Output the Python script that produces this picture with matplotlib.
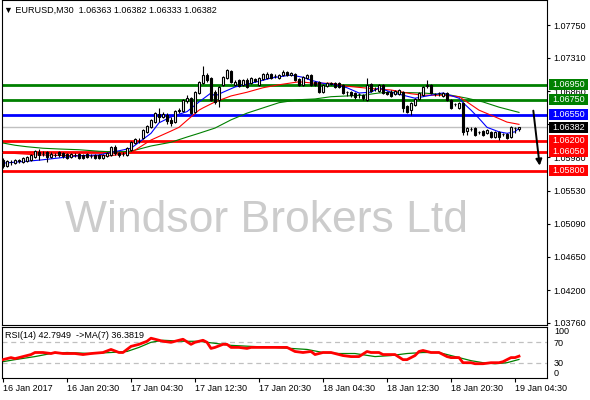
#!/usr/bin/env python3
"""EURUSD M30 candle chart with support/resistance levels and RSI(14) panel (MT4 style)."""

import matplotlib
matplotlib.use("Agg")
import matplotlib.pyplot as plt
from matplotlib.patches import Rectangle
import numpy as np

plt.rcParams["font.family"] = ["Liberation Sans", "DejaVu Sans"]

# --- candles, one per 30 min bar (bar 0 = 16 Jan 2017 12:30) ---
opens = [
    1.0594, 1.0586, 1.0592, 1.0590, 1.0594, 1.0592, 1.0593, 1.0594, 1.0598, 1.0605,
    1.0602, 1.0605, 1.0598, 1.0601, 1.0605, 1.0604, 1.0602, 1.0598, 1.0601, 1.0602,
    1.0601, 1.0602, 1.0600, 1.0601, 1.0601, 1.0597, 1.0600, 1.0601, 1.0612, 1.0604,
    1.0602, 1.0601, 1.0608, 1.0617, 1.0620, 1.0624, 1.0632, 1.0638, 1.0645, 1.0656,
    1.0652, 1.0654, 1.0648, 1.0645, 1.0660, 1.0660, 1.0673, 1.0677, 1.0659, 1.0684,
    1.0697, 1.0708, 1.0704, 1.0685, 1.0675, 1.0695, 1.0704, 1.0713, 1.0695, 1.0701,
    1.0695, 1.0701, 1.0697, 1.0703, 1.0695, 1.0703, 1.0704, 1.0709, 1.0707, 1.0704,
    1.0708, 1.0712, 1.0708, 1.0709, 1.0703, 1.0695, 1.0704, 1.0708, 1.0699, 1.0699,
    1.0685, 1.0693, 1.0697, 1.0697, 1.0697, 1.0695, 1.0685, 1.0685, 1.0684, 1.0683,
    1.0681, 1.0675, 1.0696, 1.0689, 1.0687, 1.0695, 1.0685, 1.0685, 1.0683, 1.0683,
    1.0685, 1.0667, 1.0661, 1.0668, 1.0676, 1.0681, 1.0693, 1.0695, 1.0683, 1.0684,
    1.0680, 1.0684, 1.0675, 1.0669, 1.0664, 1.0671, 1.0633, 1.0636, 1.0637, 1.0632,
    1.0633, 1.0630, 1.0632, 1.0625, 1.0632, 1.0629, 1.0629, 1.0625, 1.0637, 1.06363,
]
highs = [
    1.0597, 1.0594, 1.0594, 1.0596, 1.0596, 1.0598, 1.0600, 1.0602, 1.0608, 1.0609,
    1.0606, 1.0606, 1.0605, 1.0604, 1.0606, 1.0605, 1.0604, 1.0604, 1.0604, 1.0604,
    1.0602, 1.0604, 1.0602, 1.0602, 1.0602, 1.0602, 1.0605, 1.0613, 1.0614, 1.0605,
    1.0605, 1.0612, 1.0620, 1.0624, 1.0624, 1.0636, 1.0641, 1.0649, 1.0659, 1.0664,
    1.0659, 1.0657, 1.0652, 1.0661, 1.0664, 1.0676, 1.0681, 1.0679, 1.0687, 1.0700,
    1.0720, 1.0711, 1.0705, 1.0688, 1.0693, 1.0707, 1.0716, 1.0715, 1.0701, 1.0703,
    1.0703, 1.0704, 1.0705, 1.0704, 1.0705, 1.0711, 1.0712, 1.0711, 1.0709, 1.0709,
    1.0715, 1.0713, 1.0712, 1.0711, 1.0704, 1.0707, 1.0709, 1.0709, 1.0700, 1.0700,
    1.0696, 1.0699, 1.0699, 1.0699, 1.0699, 1.0696, 1.0687, 1.0687, 1.0685, 1.0684,
    1.0683, 1.0704, 1.0697, 1.0692, 1.0696, 1.0696, 1.0687, 1.0688, 1.0688, 1.0689,
    1.0687, 1.0668, 1.0672, 1.0677, 1.0685, 1.0693, 1.0701, 1.0696, 1.0684, 1.0685,
    1.0685, 1.0685, 1.0676, 1.0671, 1.0672, 1.0672, 1.0638, 1.0638, 1.0638, 1.0633,
    1.0634, 1.0636, 1.0633, 1.0633, 1.0633, 1.0630, 1.0630, 1.0640, 1.0638, 1.06382,
]
lows = [
    1.0584, 1.0585, 1.0588, 1.0589, 1.0590, 1.0590, 1.0592, 1.0593, 1.0597, 1.0594,
    1.0600, 1.0592, 1.0597, 1.0598, 1.0598, 1.0597, 1.0596, 1.0597, 1.0598, 1.0596,
    1.0596, 1.0597, 1.0597, 1.0596, 1.0596, 1.0596, 1.0598, 1.0600, 1.0601, 1.0598,
    1.0600, 1.0600, 1.0606, 1.0616, 1.0617, 1.0622, 1.0630, 1.0637, 1.0644, 1.0645,
    1.0650, 1.0642, 1.0640, 1.0644, 1.0657, 1.0659, 1.0671, 1.0656, 1.0657, 1.0683,
    1.0696, 1.0699, 1.0673, 1.0669, 1.0665, 1.0693, 1.0703, 1.0697, 1.0693, 1.0692,
    1.0693, 1.0691, 1.0696, 1.0699, 1.0693, 1.0701, 1.0703, 1.0703, 1.0704, 1.0703,
    1.0707, 1.0707, 1.0707, 1.0700, 1.0693, 1.0693, 1.0703, 1.0693, 1.0693, 1.0684,
    1.0684, 1.0692, 1.0695, 1.0691, 1.0690, 1.0683, 1.0680, 1.0679, 1.0676, 1.0677,
    1.0675, 1.0673, 1.0685, 1.0687, 1.0685, 1.0683, 1.0681, 1.0679, 1.0681, 1.0681,
    1.0659, 1.0657, 1.0654, 1.0667, 1.0675, 1.0680, 1.0691, 1.0683, 1.0680, 1.0680,
    1.0679, 1.0673, 1.0663, 1.0667, 1.0663, 1.0628, 1.0628, 1.0633, 1.0626, 1.0629,
    1.0626, 1.0629, 1.0624, 1.0624, 1.0621, 1.0626, 1.0622, 1.0624, 1.0630, 1.06333,
]
closes = [
    1.0586, 1.0593, 1.0591, 1.0594, 1.0593, 1.0597, 1.0598, 1.0601, 1.0606, 1.0601,
    1.0602, 1.0598, 1.0602, 1.0601, 1.0601, 1.0600, 1.0597, 1.0602, 1.0601, 1.0597,
    1.0597, 1.0598, 1.0600, 1.0597, 1.0597, 1.0601, 1.0604, 1.0612, 1.0604, 1.0601,
    1.0602, 1.0610, 1.0618, 1.0622, 1.0620, 1.0634, 1.0640, 1.0648, 1.0657, 1.0652,
    1.0656, 1.0646, 1.0644, 1.0660, 1.0661, 1.0675, 1.0677, 1.0657, 1.0685, 1.0699,
    1.0708, 1.0701, 1.0675, 1.0672, 1.0692, 1.0705, 1.0715, 1.0699, 1.0699, 1.0693,
    1.0701, 1.0692, 1.0704, 1.0700, 1.0704, 1.0709, 1.0709, 1.0704, 1.0707, 1.0708,
    1.0712, 1.0708, 1.0711, 1.0701, 1.0695, 1.0705, 1.0708, 1.0695, 1.0695, 1.0685,
    1.0695, 1.0697, 1.0696, 1.0692, 1.0692, 1.0684, 1.0685, 1.0681, 1.0679, 1.0683,
    1.0677, 1.0695, 1.0687, 1.0689, 1.0695, 1.0684, 1.0683, 1.0680, 1.0687, 1.0688,
    1.0664, 1.0659, 1.0671, 1.0676, 1.0684, 1.0692, 1.0695, 1.0684, 1.0683, 1.0684,
    1.0684, 1.0675, 1.0664, 1.0669, 1.0671, 1.0632, 1.0637, 1.0636, 1.0628, 1.0632,
    1.0628, 1.0634, 1.0625, 1.0632, 1.0625, 1.0629, 1.0624, 1.0638, 1.0637, 1.06382,
]

# moving averages (bar index -> price)
ma_fast_idx = [0, 9, 19, 24, 32, 34, 37, 39, 42, 46, 49, 52, 53, 55, 58, 62, 65, 67, 72, 75,
               77, 80, 83, 86, 89, 92, 94, 97, 100, 103, 107, 110, 114, 115, 117, 119, 121,
               124, 126, 128, 129]
ma_fast = [1.0590, 1.0594, 1.0600, 1.0601, 1.0610, 1.0618, 1.0630, 1.0644, 1.0652, 1.0659,
           1.0672, 1.0684, 1.0680, 1.0685, 1.0692, 1.0697, 1.0701, 1.0704, 1.0708, 1.0705,
           1.0701, 1.0697, 1.0695, 1.0691, 1.0684, 1.0685, 1.0691, 1.0685, 1.0681, 1.0677,
           1.0681, 1.0684, 1.0677, 1.0671, 1.0661, 1.0650, 1.0638, 1.0632, 1.0630, 1.0632,
           1.0637]
ma_mid_idx = [0, 9, 19, 27, 32, 37, 42, 44, 47, 49, 50, 53, 57, 61, 65, 69, 74, 78, 82, 86,
              90, 94, 97, 102, 105, 110, 114, 116, 119, 123, 126, 129]
ma_mid = [1.0604, 1.0601, 1.0600, 1.0600, 1.0604, 1.0621, 1.0633, 1.0638, 1.0652, 1.0661,
          1.0664, 1.0672, 1.0680, 1.0685, 1.0691, 1.0695, 1.0699, 1.0697, 1.0697, 1.0693,
          1.0691, 1.0689, 1.0688, 1.0683, 1.0681, 1.0681, 1.0679, 1.0672, 1.0661, 1.0652,
          1.0645, 1.0642]
ma_slow_idx = [0, 3, 6, 10, 14, 19, 24, 28, 32, 37, 42, 46, 49, 53, 57, 61, 65, 69, 74, 78,
               82, 86, 90, 94, 97, 105, 112, 116, 120, 124, 129]
ma_slow = [1.0617, 1.0614, 1.0612, 1.0610, 1.0609, 1.0608, 1.0606, 1.0605, 1.0606, 1.0613,
           1.0618, 1.0625, 1.0630, 1.0637, 1.0648, 1.0657, 1.0664, 1.0671, 1.0675, 1.0676,
           1.0679, 1.0680, 1.0681, 1.0684, 1.0685, 1.0684, 1.0681, 1.0677, 1.0672, 1.0665,
           1.0658]

# horizontal levels
level_prices = [1.06950, 1.06750, 1.06550, 1.06200, 1.06050, 1.05800]
level_colors = ["#008000", "#008000", "#0000ff", "#ff0000", "#ff0000", "#ff0000"]
last_price = 1.06382

price_ticks = [1.07750, 1.07310, 1.06860, 1.06420, 1.05980, 1.05530,
               1.05090, 1.04650, 1.04200, 1.03760]

# RSI(14) and its MA(7)
rsi_idx = [0, 2, 3, 5, 7, 8, 10, 12, 13, 15, 18, 20, 22, 25, 27, 29, 30, 31, 32, 34,
           36, 37, 39, 40, 42, 43, 45, 47, 48, 50, 51, 52, 53, 55, 56, 57, 59, 61, 62, 65,
           67, 69, 71, 72, 73, 75, 77, 78, 80, 82, 85, 87, 89, 91, 92, 94, 95, 97, 98, 100,
           101, 103, 104, 105, 107, 109, 111, 112, 114, 115, 117, 118, 120, 122, 124, 125,
           127, 128, 129]
rsi_vals = [36, 40, 38, 42, 46, 50, 50, 48, 50, 48, 48, 46, 48, 50, 56, 50, 50, 56, 62, 66,
            72, 78, 74, 72, 70, 72, 76, 66, 70, 74, 70, 58, 60, 66, 66, 60, 60, 58, 60, 60,
            60, 60, 60, 56, 52, 50, 52, 46, 50, 50, 44, 42, 42, 52, 50, 50, 46, 46, 46, 36,
            36, 44, 52, 54, 50, 50, 42, 40, 40, 30, 30, 28, 28, 30, 30, 32, 40, 40, 42.79]
rsi_ma_idx = [0, 3, 8, 12, 16, 22, 27, 31, 34, 37, 40, 45, 49, 53, 57, 62, 68, 72, 76, 80,
              84, 88, 93, 97, 101, 105, 109, 113, 117, 120, 123, 126, 129]
rsi_ma_vals = [32, 36, 42, 48, 50, 48, 50, 52, 60, 70, 74, 72, 72, 68, 64, 62, 60, 58, 56, 50,
               48, 48, 42, 44, 48, 50, 50, 42, 34, 30, 28, 30, 36.38]

time_ticks = [0, 16, 32, 48, 64, 80, 96, 112, 128]
time_labels = ["16 Jan 2017", "16 Jan 20:30", "17 Jan 04:30", "17 Jan 12:30", "17 Jan 20:30",
               "18 Jan 04:30", "18 Jan 12:30", "18 Jan 20:30", "19 Jan 04:30"]

FS = 6.5
W, H = 590, 400


def main():
    fig = plt.figure(figsize=(W / 100, H / 100), dpi=100)
    fig.patch.set_facecolor("white")
    # pixel-based layout: price panel 0..325, RSI panel 327..378, plot x 2..547
    ax = fig.add_axes([2 / W, 1 - 325 / H, 545 / W, 325 / H])
    ax2 = fig.add_axes([2 / W, 1 - 378 / H, 545 / W, 51 / H])

    xlim = (-0.25, 136.0)
    ax.set_xlim(*xlim)
    ax.set_ylim(1.03733, 1.08085)

    # watermark
    ax.text((65 - 2) / 545, 1 - 232 / 325, "Windsor Brokers Ltd", transform=ax.transAxes,
            fontsize=32, color="#cccccc", ha="left", va="baseline", zorder=0.5)

    # levels
    for lvl, col in zip(level_prices, level_colors):
        ax.axhline(lvl, color=col, linewidth=2, zorder=2)
    ax.axhline(last_price, color="#c0c0c0", linewidth=1, zorder=1.8)

    # moving averages
    ax.plot(ma_slow_idx, ma_slow, color="#008000", linewidth=0.8, zorder=2.5)
    ax.plot(ma_mid_idx, ma_mid, color="#ff0000", linewidth=0.8, zorder=2.6)
    ax.plot(ma_fast_idx, ma_fast, color="#0000ff", linewidth=0.8, zorder=2.7)

    # candles
    o = np.array(opens)
    c = np.array(closes)
    idx = np.arange(len(o))
    ax.vlines(idx, lows, highs, color="black", linewidth=0.8, zorder=3)
    up = c >= o
    ax.bar(idx, np.abs(c - o), bottom=np.minimum(o, c), width=0.6,
           color=np.where(up, "white", "black"), edgecolor="black", linewidth=0.8, zorder=4)

    # arrow pointing down to the target
    ax.annotate("", xy=(134.25, 1.0583), xytext=(132.5, 1.0664),
                arrowprops=dict(arrowstyle="-|>", color="black", lw=1.4, mutation_scale=9),
                zorder=6)

    ax.set_xticks([])
    ax.yaxis.tick_right()
    ax.set_yticks(price_ticks)
    ax.set_yticklabels([f"{p:.5f}" for p in price_ticks])
    ax.tick_params(axis="y", labelsize=FS, length=2.5, pad=2, width=0.8)

    # coloured price boxes on the scale
    box_h = 11 * (1.08085 - 1.03733) / 325
    boxes = list(zip(level_prices, level_colors)) + [(last_price, "black")]
    for lvl, col in boxes:
        ax.add_patch(Rectangle((547 / 545, lvl - box_h / 2), 39 / 545, box_h,
                               transform=ax.get_yaxis_transform(), facecolor=col,
                               edgecolor="none", clip_on=False, zorder=9))
        ax.text((568.5 - 2) / 545, lvl, f"{lvl:.5f}", transform=ax.get_yaxis_transform(),
                ha="center", va="center", fontsize=FS, color="white", clip_on=False, zorder=10)

    # RSI panel
    ax2.set_xlim(*xlim)
    ax2.set_ylim(0, 100)
    for lv in (30, 70):
        ax2.axhline(lv, color="#c0c0c0", linewidth=0.9, linestyle=(0, (4, 3)), zorder=1)
    ax2.plot(rsi_ma_idx, rsi_ma_vals, color="#008000", linewidth=0.9, zorder=2)
    ax2.plot(rsi_idx, rsi_vals, color="#ff0000", linewidth=2, zorder=3)
    ax2.yaxis.tick_right()
    ax2.set_yticks([0, 30, 70, 100])
    ax2.set_yticklabels(["0", "30", "70", "100"])
    for lab in ax2.get_yticklabels():
        if lab.get_text() == "100":
            lab.set_va("top")
        elif lab.get_text() == "0":
            lab.set_va("bottom")
    ax2.tick_params(axis="y", labelsize=FS, length=0, pad=5)
    ax2.set_xticks(time_ticks)
    ax2.set_xticklabels(time_labels, ha="left")
    ax2.tick_params(axis="x", labelsize=FS, length=3, pad=1.5, width=0.8)

    for a in (ax, ax2):
        for sp in a.spines.values():
            sp.set_color("black")
            sp.set_linewidth(0.8)

    fig.text(4 / W, 1 - 10 / H, "\u25bc EURUSD,M30  1.06363 1.06382 1.06333 1.06382",
             fontsize=FS, va="center", ha="left")
    fig.text(5 / W, 1 - 336 / H, "RSI(14) 42.7949  ->MA(7) 36.3819",
             fontsize=FS, va="center", ha="left")

    fig.savefig("out.png", dpi=100)


if __name__ == "__main__":
    main()
